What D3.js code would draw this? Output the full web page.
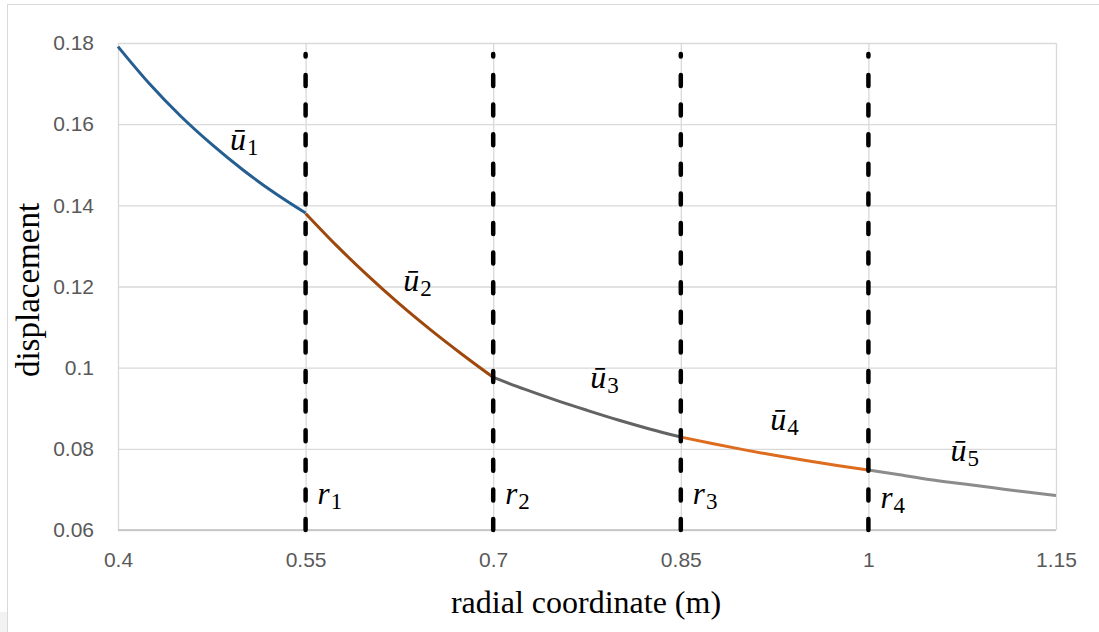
<!DOCTYPE html>
<html lang="en">
<head>
<meta charset="utf-8">
<title>Radial displacement</title>
<script src="https://cdn.jsdelivr.net/npm/d3@7"></script>
<style>
  body { margin: 0; background: #fff; }
  svg { display: block; }
  .tick text { font-family: "Liberation Sans", Arial, sans-serif; font-size: 21px; fill: #595959; }
</style>
</head>
<body>
<script>
// axis ticks
var xTicks = [0.4, 0.55, 0.7, 0.85, 1, 1.15];
var yTicks = [0.06, 0.08, 0.1, 0.12, 0.14, 0.16, 0.18];

// interface radii r1..r4
var radii = [0.55, 0.7, 0.85, 1.0];

// displacement, one piece per layer
var u1R = [0.4, 0.425, 0.45, 0.475, 0.5, 0.525, 0.55];
var u1V = [0.1791, 0.1700, 0.1620, 0.1550, 0.1487, 0.1431, 0.1381];
var u2R = [0.55, 0.575, 0.6, 0.625, 0.65, 0.675, 0.7];
var u2V = [0.1380, 0.1300, 0.1226, 0.1157, 0.1093, 0.1033, 0.0976];
var u3R = [0.7, 0.725, 0.75, 0.775, 0.8, 0.825, 0.85];
var u3V = [0.0976, 0.0947, 0.0920, 0.0895, 0.0871, 0.0849, 0.0829];
var u4R = [0.85, 0.875, 0.9, 0.925, 0.95, 0.975, 1.0];
var u4V = [0.0829, 0.0813, 0.0798, 0.0784, 0.0771, 0.0759, 0.0748];
var u5R = [1.0, 1.025, 1.05, 1.075, 1.1, 1.125, 1.15];
var u5V = [0.0748, 0.0736, 0.0724, 0.0714, 0.0704, 0.0694, 0.0685];

var seriesColors = ["#255E91", "#9E480E", "#636363", "#DD6C1E", "#8C8C8C"];
// where the u-bar labels sit (data units)
var uLabelR = [0.4896, 0.628, 0.7776, 0.9216, 1.0656];
var uLabelV = [0.1536, 0.1189, 0.0950, 0.0846, 0.0770];
var rLabelV = [0.0664, 0.0664, 0.0664, 0.0654];

var w = 1099, h = 632;
var svg = d3.select("body").append("svg")
  .attr("width", w).attr("height", h);

// outer chart frame
svg.append("rect")
  .attr("x", 7.5).attr("y", 4.5)
  .attr("width", w).attr("height", h)
  .attr("fill", "#fff").attr("stroke", "#D9D9D9");
svg.append("rect")
  .attr("x", 0).attr("y", 612).attr("width", 7).attr("height", 20)
  .attr("fill", "#F2F2F2");

var x = d3.scaleLinear().domain([0.4, 1.15]).range([118, 1056]);
var y = d3.scaleLinear().domain([0.06, 0.18]).range([530, 43]);

// horizontal gridlines
svg.append("g")
  .attr("transform", "translate(118,0)")
  .call(d3.axisLeft(y).tickValues(yTicks).tickSize(-(1056 - 118)).tickFormat(""))
  .call(function(g) {
    g.select(".domain").remove();
    g.selectAll("line").attr("stroke", "#D9D9D9").attr("stroke-width", 1.3);
  });

// vertical gridlines
svg.append("g")
  .attr("transform", "translate(0,530)")
  .call(d3.axisBottom(x).tickValues(xTicks).tickSize(-(530 - 43)).tickFormat(""))
  .call(function(g) {
    g.select(".domain").remove();
    g.selectAll("line").attr("stroke", "#D9D9D9").attr("stroke-width", 1.3);
  });

// bottom axis line
svg.append("line")
  .attr("x1", 118).attr("x2", 1056)
  .attr("y1", 530).attr("y2", 530)
  .attr("stroke", "#BFBFBF").attr("stroke-width", 1.5);

// tick labels
svg.append("g")
  .attr("transform", "translate(0,530)")
  .call(d3.axisBottom(x).tickValues(xTicks).tickSize(0).tickPadding(22)
    .tickFormat(function(d) { return String(d); }))
  .call(function(g) { g.select(".domain").remove(); });

svg.append("g")
  .attr("transform", "translate(118,0)")
  .call(d3.axisLeft(y).tickValues(yTicks).tickSize(0).tickPadding(24)
    .tickFormat(function(d) { return String(d); }))
  .call(function(g) { g.select(".domain").remove(); });

// curves
var line = d3.line()
  .x(function(d) { return x(d[0]); })
  .y(function(d) { return y(d[1]); })
  .curve(d3.curveMonotoneX);

var pieces = [[u1R, u1V], [u2R, u2V], [u3R, u3V], [u4R, u4V], [u5R, u5V]];
pieces.forEach(function(p, i) {
  svg.append("path")
    .datum(d3.zip(p[0], p[1]))
    .attr("d", line)
    .attr("fill", "none")
    .attr("stroke", seriesColors[i])
    .attr("stroke-width", 3);
});

// dashed interface lines
svg.selectAll("line.iface")
  .data(radii)
  .enter()
  .append("line")
  .attr("class", "iface")
  .attr("x1", function(d) { return x(d); })
  .attr("x2", function(d) { return x(d); })
  .attr("y1", y(0.06))
  .attr("y2", y(0.1773))
  .attr("stroke", "#000")
  .attr("stroke-width", 4.5)
  .attr("stroke-linecap", "round")
  .attr("stroke-dasharray", "11,18.6");

// u-bar labels
var mathFont = "Liberation Serif, Times New Roman, serif";
var uLab = svg.selectAll("text.ulab")
  .data(uLabelR)
  .enter()
  .append("text")
  .attr("class", "ulab")
  .attr("x", function(d) { return x(d); })
  .attr("y", function(d, i) { return y(uLabelV[i]); })
  .attr("font-family", mathFont)
  .attr("font-style", "italic")
  .attr("font-size", "32px")
  .attr("fill", "#000");
uLab.append("tspan").text("ū");
uLab.append("tspan")
  .attr("font-style", "normal")
  .attr("font-size", "23px")
  .attr("dx", 1)
  .attr("dy", 5)
  .text(function(d, i) { return i + 1; });

// r labels next to the dashed lines
var rLab = svg.selectAll("text.rlab")
  .data(radii)
  .enter()
  .append("text")
  .attr("class", "rlab")
  .attr("x", function(d) { return x(d) + 12; })
  .attr("y", function(d, i) { return y(rLabelV[i]); })
  .attr("font-family", mathFont)
  .attr("font-style", "italic")
  .attr("font-size", "31px")
  .attr("fill", "#000");
rLab.append("tspan").text("r");
rLab.append("tspan")
  .attr("font-style", "normal")
  .attr("font-size", "23px")
  .attr("dx", 1)
  .attr("dy", 5)
  .text(function(d, i) { return i + 1; });

// axis titles
svg.append("text")
  .attr("x", 586)
  .attr("y", 613)
  .attr("text-anchor", "middle")
  .attr("font-family", "Liberation Serif, Times New Roman, serif")
  .attr("font-size", "32px")
  .attr("fill", "#000")
  .text("radial coordinate (m)");

svg.append("text")
  .attr("transform", "translate(39,290) rotate(-90)")
  .attr("text-anchor", "middle")
  .attr("font-family", "Liberation Serif, Times New Roman, serif")
  .attr("font-size", "33px")
  .attr("fill", "#000")
  .text("displacement");
</script>
</body>
</html>
